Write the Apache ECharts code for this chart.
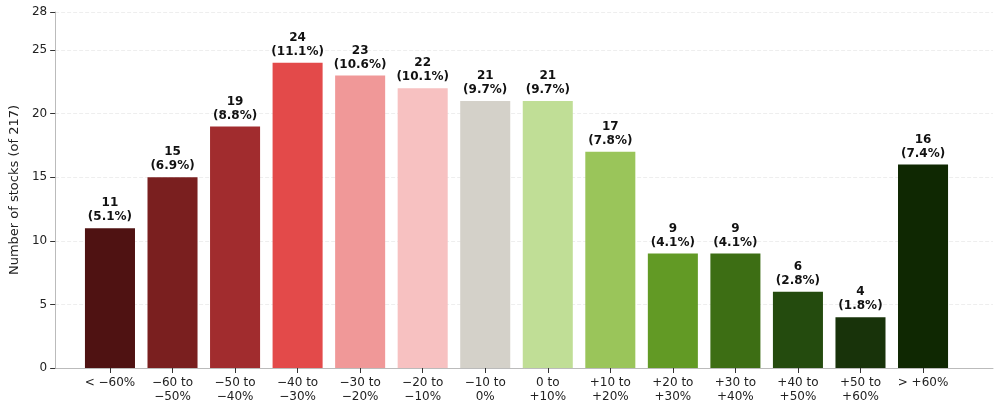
<!DOCTYPE html>
<html><head><meta charset="utf-8">
<script src="https://cdn.jsdelivr.net/npm/echarts@6/dist/echarts.min.js"></script>
<style>html,body{margin:0;padding:0;background:#fff}#main{width:1000px;height:411px}</style>
</head><body><div id="main"></div>
<script>
var categories = ["< \u221260%", "\u221260 to\n\u221250%", "\u221250 to\n\u221240%", "\u221240 to\n\u221230%", "\u221230 to\n\u221220%", "\u221220 to\n\u221210%", "\u221210 to\n0%", "0 to\n+10%", "+10 to\n+20%", "+20 to\n+30%", "+30 to\n+40%", "+40 to\n+50%", "+50 to\n+60%", "> +60%"];
var counts = [11, 15, 19, 24, 23, 22, 21, 21, 17, 9, 9, 6, 4, 16];
var total = 217;
var colors = ["#4f1212", "#7a1f1f", "#a12c2e", "#e34a4a", "#f09898", "#f7c1c1", "#d4d1c9", "#c0de96", "#9ac55a", "#629a25", "#3d6e14", "#244b0e", "#18330a", "#0f2802"];

var chart = echarts.init(document.getElementById("main"));
var font = "DejaVu Sans";
var option = {
  animation: false,
  textStyle: { fontFamily: font },
  grid: [
    { left: 78.7, width: 875.6, top: 12, bottom: 43 },
    { left: 40, right: 7, top: 12, bottom: 43 }
  ],
  xAxis: [
    { type: "category", gridIndex: 0, data: categories,
      axisLine: { show: false }, axisTick: { show: true, alignWithLabel: true, lineStyle: { color: "#333" } },
      axisLabel: { color: "#222", fontSize: 12, fontFamily: font, interval: 0, lineHeight: 14 } },
    { type: "value", gridIndex: 1, min: 0, max: 1, show: true,
      axisLine: { show: true, lineStyle: { color: "#bbb" } }, axisTick: { show: false },
      axisLabel: { show: false }, splitLine: { show: false } }
  ],
  yAxis: [
    { type: "value", gridIndex: 0, min: 0, max: 28, show: false },
    { type: "value", gridIndex: 1, min: 0, max: 28, interval: 5,
      name: "Number of stocks (of 217)", nameLocation: "middle", nameGap: 24,
      nameTextStyle: { fontSize: 13, color: "#222", fontFamily: font },
      axisLine: { show: true, lineStyle: { color: "#bbb" } },
      axisTick: { show: true, lineStyle: { color: "#333" } },
      axisLabel: { color: "#222", fontSize: 12, fontFamily: font },
      splitLine: { show: true, lineStyle: { type: "dashed", color: "#eee" } } }
  ],
  series: [{
    type: "bar", xAxisIndex: 0, yAxisIndex: 0, barCategoryGap: "20%",
    data: counts.map(function (v, i) { return { value: v, itemStyle: { color: colors[i] } }; }),
    label: { show: true, position: "top", distance: 4, fontWeight: "bold", fontSize: 12, color: "#111", lineHeight: 14,
      formatter: function (p) { return p.value + "\n(" + (p.value / total * 100).toFixed(1) + "%)"; } }
  }]
};
chart.setOption(option);
</script></body></html>
